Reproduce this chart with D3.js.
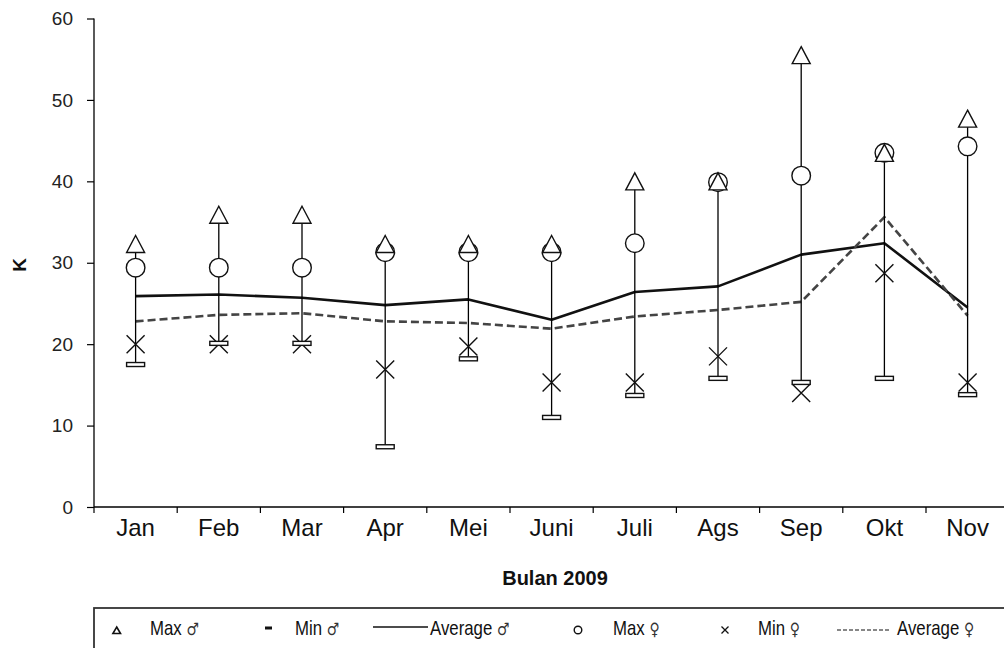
<!DOCTYPE html>
<html>
<head>
<meta charset="utf-8">
<script src="https://cdn.jsdelivr.net/npm/d3@7/dist/d3.min.js"></script>
<style>
  html, body { margin: 0; padding: 0; background: #fff; }
  svg { display: block; font-family: "Liberation Sans", Arial, sans-serif; }
</style>
</head>
<body>
<svg id="chart" width="1004" height="648"></svg>
<script>
// Monthly K values, 2009
const months = ["Jan", "Feb", "Mar", "Apr", "Mei", "Juni", "Juli", "Ags", "Sep", "Okt", "Nov"];
const maxMale   = [32.3, 35.9, 35.9, 32.3, 32.3, 32.3, 40.0, 40.0, 55.5, 43.5, 47.7];
const minMale   = [17.5, 20.1, 20.1, 7.4, 18.2, 11.0, 13.7, 15.8, 15.3, 15.8, 13.8];
const avgMale   = [25.9, 26.1, 25.7, 24.8, 25.5, 23.0, 26.4, 27.1, 31.0, 32.4, 24.5];
const maxFemale = [29.4, 29.4, 29.4, 31.3, 31.3, 31.3, 32.4, 39.9, 40.7, 43.5, 44.3];
const minFemale = [20.0, 20.0, 20.0, 16.9, 19.7, 15.3, 15.3, 18.5, 14.0, 28.7, 15.3];
const avgFemale = [22.8, 23.6, 23.8, 22.8, 22.6, 21.9, 23.4, 24.2, 25.2, 35.6, 23.5];
const yTicks = [0, 10, 20, 30, 40, 50, 60];
const yLabel = "K";
const xLabel = "Bulan 2009";
const legendNames = ["Max", "Min", "Average", "Max", "Min", "Average"];
const legendSex = ["\u2642", "\u2642", "\u2642", "\u2640", "\u2640", "\u2640"];

const svg = d3.select("#chart");
const plotLeft = 94, plotBottom = 507, plotTop = 18.5, bandW = 83.2;

const x = d3.scaleBand().domain(months).range([plotLeft, plotLeft + bandW * months.length]).padding(0);
const y = d3.scaleLinear().domain([0, 60]).range([plotBottom, plotTop]);
const cx = m => x(m) + x.bandwidth() / 2;

// ---- axes ----
const gy = svg.append("g").attr("transform", `translate(${plotLeft},0)`)
  .call(d3.axisLeft(y).tickValues(yTicks).tickSize(7).tickPadding(14).tickFormat(d3.format("d")));
gy.select(".domain").attr("stroke", "#000").attr("stroke-width", 1.3).attr("d", `M0,${plotTop}V${plotBottom}`);
gy.selectAll(".tick line").attr("stroke", "#000").attr("stroke-width", 1.2);
gy.selectAll(".tick text").attr("font-size", 19).attr("fill", "#222")
  .attr("font-family", "Liberation Sans, Arial, sans-serif");

// x axis: line, boundary ticks, centred month labels
const gx = svg.append("g").attr("transform", `translate(0,${plotBottom})`);
gx.append("line").attr("x1", plotLeft).attr("x2", 1004).attr("stroke", "#000").attr("stroke-width", 1.3);
gx.selectAll("line.bt").data(months).join("line").attr("class", "bt")
  .attr("x1", d => x(d)).attr("x2", d => x(d)).attr("y1", 0).attr("y2", 6)
  .attr("stroke", "#000").attr("stroke-width", 1.2);
gx.selectAll("text.ml").data(months).join("text").attr("class", "ml")
  .attr("x", d => cx(d)).attr("y", 29).attr("text-anchor", "middle")
  .attr("font-size", 24).attr("fill", "#111").text(d => d);

// axis titles
svg.append("text").attr("transform", "translate(26,265) rotate(-90)")
  .attr("text-anchor", "middle").attr("font-weight", "bold").attr("font-size", 19).attr("fill", "#111").text(yLabel);
svg.append("text").attr("x", 555).attr("y", 585).attr("text-anchor", "middle")
  .attr("font-weight", "bold").attr("font-size", 20).attr("fill", "#111").text(xLabel);

// ---- average lines ----
const line = d3.line().x((d, i) => cx(months[i])).y(d => y(d));
svg.append("path").datum(avgMale).attr("d", line).attr("fill", "none")
  .attr("stroke", "#111").attr("stroke-width", 2.6).attr("stroke-linejoin", "round");
svg.append("path").datum(avgFemale).attr("d", line).attr("fill", "none")
  .attr("stroke", "#444").attr("stroke-width", 2.6).attr("stroke-dasharray", "8,4");

// ---- range lines (Min to Max) ----
svg.selectAll("line.rng").data(months).join("line").attr("class", "rng")
  .attr("x1", d => cx(d)).attr("x2", d => cx(d))
  .attr("y1", (d, i) => y(maxMale[i])).attr("y2", (d, i) => y(minMale[i]))
  .attr("stroke", "#000").attr("stroke-width", 1.3);

// ---- markers ----
const mk = svg.append("g").attr("stroke", "#111").attr("stroke-width", 1.4).attr("fill", "#fff");
// Max female: circles
mk.selectAll("circle").data(maxFemale).join("circle")
  .attr("cx", (d, i) => cx(months[i])).attr("cy", d => y(d)).attr("r", 9.3);
// Max male: triangles
mk.selectAll("path.tri").data(maxMale).join("path").attr("class", "tri")
  .attr("d", (d, i) => { const px = cx(months[i]), py = y(d); return `M${px},${py - 8.5}L${px + 9},${py + 8.5}L${px - 9},${py + 8.5}Z`; });
// Min female: crosses
mk.selectAll("path.crs").data(minFemale).join("path").attr("class", "crs").attr("fill", "none")
  .attr("d", (d, i) => { const px = cx(months[i]), py = y(d); return `M${px - 9},${py - 9}L${px + 9},${py + 9}M${px + 9},${py - 9}L${px - 9},${py + 9}`; });
// Min male: short bars
mk.selectAll("rect").data(minMale).join("rect")
  .attr("x", (d, i) => cx(months[i]) - 9).attr("y", d => y(d) - 2).attr("width", 18).attr("height", 4);

// ---- legend ----
const lg = svg.append("g");
lg.append("rect").attr("x", 94).attr("y", 608).attr("width", 940).attr("height", 60)
  .attr("fill", "#fff").attr("stroke", "#333").attr("stroke-width", 1.8);
const legendSlots = [150, 295, 430, 613, 758, 897];
const lt = lg.selectAll("text").data(legendNames).join("text")
  .attr("transform", (d, i) => `translate(${legendSlots[i]},635) scale(0.82,1)`)
  .attr("font-size", 20.5).attr("fill", "#111");
lt.append("tspan").text(d => d + " ");
lt.append("tspan").attr("font-family", "DejaVu Sans, sans-serif").attr("font-size", 17)
  .attr("fill", "#333").text((d, i) => legendSex[i]);
// legend symbols
lg.append("path").attr("d", "M116.7,627L120.5,633.5L112.9,633.5Z").attr("fill", "none").attr("stroke", "#111").attr("stroke-width", 1.6);
lg.append("rect").attr("x", 265).attr("y", 626.5).attr("width", 7).attr("height", 3).attr("fill", "#111");
lg.append("line").attr("x1", 373).attr("x2", 428).attr("y1", 627).attr("y2", 627).attr("stroke", "#111").attr("stroke-width", 1.3);
lg.append("circle").attr("cx", 578).attr("cy", 630).attr("r", 3.8).attr("fill", "none").attr("stroke", "#111").attr("stroke-width", 1.4);
lg.append("path").attr("d", "M721.5,626.5L728.5,633.5M728.5,626.5L721.5,633.5").attr("stroke", "#111").attr("stroke-width", 1.3);
lg.append("line").attr("x1", 837).attr("x2", 891).attr("y1", 630).attr("y2", 630).attr("stroke", "#111").attr("stroke-width", 1.1).attr("stroke-dasharray", "4,2");
</script>
</body>
</html>
